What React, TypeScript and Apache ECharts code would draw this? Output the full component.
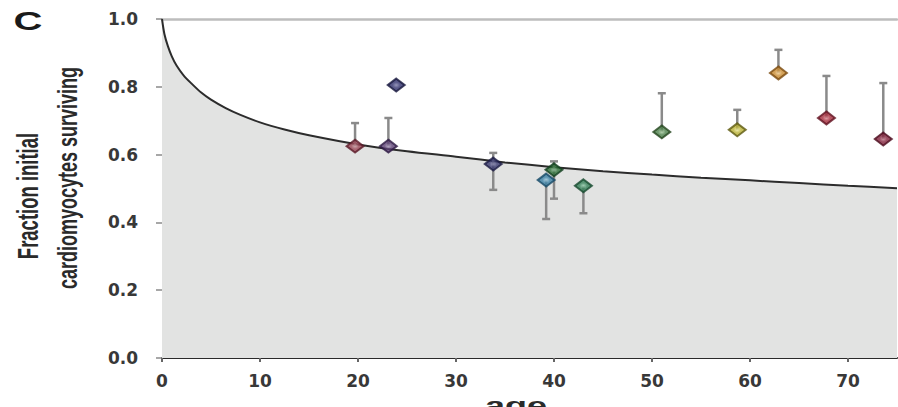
import React, { useEffect, useRef } from "react";
import * as echarts from "echarts";

// Fitted survival curve (age, fraction)
const curveAges = [0, 0.25, 0.6, 1.0, 1.5, 2.2, 3, 4, 5, 6.5, 8, 10, 12.5, 15, 20, 25, 30, 35, 40, 45, 50, 55, 60, 65, 70, 75];
const curveValues = [1.0, 0.955, 0.92, 0.89, 0.862, 0.834, 0.81, 0.783, 0.762, 0.737, 0.717, 0.695, 0.674, 0.657, 0.63, 0.61, 0.594, 0.577, 0.563, 0.551, 0.541, 0.532, 0.524, 0.516, 0.508, 0.501];

// Individual measurements
const pointAges = [19.7, 23.1, 23.9, 33.8, 39.2, 40.0, 43.0, 51.0, 58.7, 62.9, 67.8, 73.6];
const pointValues = [0.625, 0.625, 0.805, 0.572, 0.525, 0.555, 0.508, 0.667, 0.673, 0.841, 0.708, 0.646];
const errUpper = [0.693, 0.708, null, 0.605, null, 0.58, null, 0.781, 0.732, 0.909, 0.832, 0.811];
const errLower = [null, null, null, 0.496, 0.41, 0.47, 0.427, null, null, null, null, null];

const yTicks = ["0.0", "0.2", "0.4", "0.6", "0.8", "1.0"];
const xTicks = ["0", "10", "20", "30", "40", "50", "60", "70"];

const pointFill = ["#9a4656", "#5a3e72", "#2e2e6a", "#3a3a70", "#3a80a4", "#2e7038", "#358058", "#4a7e48", "#b8b034", "#c88a30", "#a42a3a", "#80203a"];
const pointCenter = ["#c89aa0", "#a898b8", "#7a7aa8", "#8a8ab4", "#a0cce0", "#90c098", "#98d0b0", "#a8cca0", "#ecea9a", "#f0cc90", "#dc8a94", "#c07a8a"];
const pointBorder = ["#5a1a28", "#2e1a44", "#16163c", "#1c1c44", "#164a66", "#123e1e", "#164a2e", "#24461e", "#5e5a10", "#7a4a0e", "#601220", "#4a0a1c"];

export default function App() {
  const ref = useRef<HTMLDivElement>(null);
  useEffect(() => {
    if (!ref.current) return;
    const chart = echarts.init(ref.current, undefined, { renderer: "svg" });
    const labelFont = "'DejaVu Sans', sans-serif";
    const curve = curveAges.map((a, i) => [a, curveValues[i]]);
    const errData = pointAges.map((a, i) => [
      a,
      errLower[i] ?? pointValues[i],
      errUpper[i] ?? pointValues[i],
      pointValues[i],
    ]);
    const scatterData = pointAges.map((a, i) => ({
      value: [a, pointValues[i]],
      itemStyle: {
        color: new echarts.graphic.RadialGradient(0.5, 0.5, 0.5, [
          { offset: 0, color: pointCenter[i] },
          { offset: 0.45, color: pointFill[i] },
          { offset: 1, color: pointFill[i] },
        ]),
        borderColor: pointBorder[i],
        borderWidth: 2,
      },
    }));

    chart.setOption({
      animation: false,
      backgroundColor: "#ffffff",
      grid: { left: 162, right: 1, top: 19, bottom: 49, containLabel: false },
      xAxis: [
        {
          type: "value",
          min: 0,
          max: 75,
          interval: 10,
          axisLine: { show: true, lineStyle: { color: "#2a2a2a", width: 2 } },
          axisTick: { show: true, length: 4, lineStyle: { color: "#666", width: 2 } },
          axisLabel: {
            margin: 14,
            fontFamily: labelFont,
            fontWeight: "bold",
            fontSize: 17,
            color: "#383838",
            showMaxLabel: false,
            formatter: (v: number) => xTicks[Math.round(v / 10)] ?? "",
          },
          splitLine: { show: false },
        },
        {
          type: "value",
          position: "top",
          min: 0,
          max: 75,
          axisLine: { show: true, lineStyle: { color: "#bdbdbd", width: 2.5 } },
          axisTick: { show: false },
          axisLabel: { show: false },
          splitLine: { show: false },
        },
      ],
      yAxis: {
        type: "value",
        min: 0,
        max: 1,
        interval: 0.2,
        axisLine: { show: false },
        axisTick: { show: true, length: 6, lineStyle: { color: "#8a8a8a", width: 1.5 } },
        axisLabel: {
          margin: 24,
          fontFamily: labelFont,
          fontWeight: "bold",
          fontSize: 17,
          color: "#383838",
          formatter: (v: number) => yTicks[Math.round(v * 5)] ?? "",
        },
        splitLine: { show: false },
      },
      series: [
        {
          type: "line",
          data: curve,
          smooth: 0.3,
          symbol: "none",
          lineStyle: { color: "#2c2c2c", width: 2 },
          areaStyle: { color: "#e2e3e2", opacity: 1 },
          z: 2,
        },
        {
          type: "custom",
          data: errData,
          z: 3,
          renderItem: (params: any, api: any) => {
            const x = api.value(0);
            const lo = api.value(1);
            const hi = api.value(2);
            const v = api.value(3);
            const pTop = api.coord([x, hi]);
            const pBot = api.coord([x, lo]);
            const cap = 4;
            const style = { stroke: "#8a8a8a", lineWidth: 2.5 };
            const children: any[] = [
              { type: "line", shape: { x1: pTop[0], y1: pTop[1], x2: pBot[0], y2: pBot[1] }, style },
            ];
            if (hi > v) {
              children.push({ type: "line", shape: { x1: pTop[0] - cap, y1: pTop[1], x2: pTop[0] + cap, y2: pTop[1] }, style });
            }
            if (lo < v) {
              children.push({ type: "line", shape: { x1: pBot[0] - cap, y1: pBot[1], x2: pBot[0] + cap, y2: pBot[1] }, style });
            }
            return { type: "group", children };
          },
        },
        {
          type: "scatter",
          data: scatterData,
          symbol: "diamond",
          symbolSize: [17, 13],
          z: 4,
        },
      ],
      graphic: [
        {
          type: "text",
          x: 28,
          y: 21,
          scaleX: 1.6,
          style: {
            text: "C",
            fontFamily: "'Liberation Sans', Arial, sans-serif",
            fontWeight: "bold",
            fontSize: 25,
            fill: "#1a1a1a",
            align: "center",
            verticalAlign: "middle",
          },
        },
        {
          type: "text",
          x: 28,
          y: 196,
          rotation: Math.PI / 2,
          scaleY: 1.55,
          style: {
            text: "Fraction initial",
            fontFamily: "'Liberation Sans', Arial, sans-serif",
            fontWeight: "bold",
            fontSize: 18.5,
            fill: "#2a2a2a",
            align: "center",
            verticalAlign: "middle",
          },
        },
        {
          type: "text",
          x: 67,
          y: 178,
          rotation: Math.PI / 2,
          scaleY: 1.55,
          style: {
            text: "cardiomyocytes surviving",
            fontFamily: "'Liberation Sans', Arial, sans-serif",
            fontWeight: "bold",
            fontSize: 18,
            fill: "#2a2a2a",
            align: "center",
            verticalAlign: "middle",
          },
        },
        {
          type: "text",
          x: 516,
          y: 405,
          scaleX: 1.6,
          style: {
            text: "age",
            fontFamily: "'Liberation Sans', Arial, sans-serif",
            fontWeight: "bold",
            fontSize: 22.5,
            fill: "#2a2a2a",
            align: "center",
            verticalAlign: "middle",
          },
        },
      ],
    });
    return () => chart.dispose();
  }, []);
  return (
    <div
      ref={ref}
      style={{ position: "fixed", left: 0, top: 0, width: 898, height: 407 }}
    />
  );
}
